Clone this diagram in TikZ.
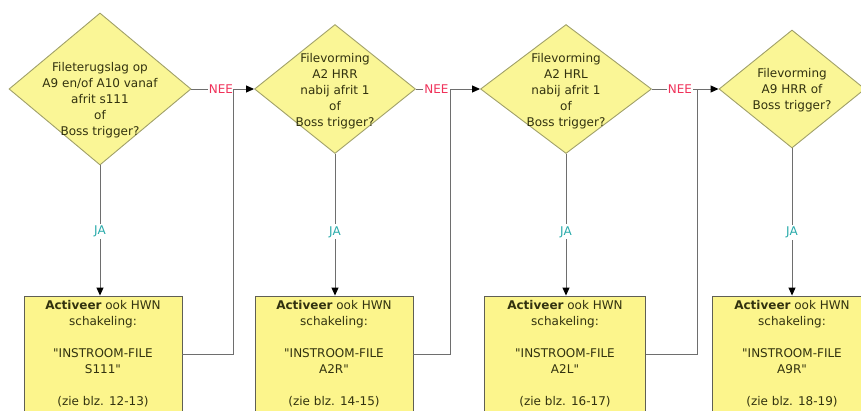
\documentclass[tikz,border=0pt]{standalone}
\usepackage{fontspec}
\setmainfont{DejaVu Sans}[Ligatures=TeXOff]
\usetikzlibrary{arrows.meta,shapes.geometric}

\definecolor{qfill}{RGB}{250,246,150}
\definecolor{qdraw}{RGB}{160,160,105}
\definecolor{afill}{RGB}{252,245,140}
\definecolor{adraw}{RGB}{95,95,85}
\definecolor{flowgray}{RGB}{110,110,110}
\definecolor{neered}{RGB}{240,50,90}
\definecolor{jateal}{RGB}{40,170,170}
\definecolor{txt}{RGB}{50,50,15}

\begin{document}
\begin{tikzpicture}[
    x=1pt, y=-1pt,
    question/.style={
      diamond, draw=qdraw, fill=qfill,
      line width=0.9pt, inner sep=0pt
    },
    qtext/.style={
      font=\fontsize{12}{16}\selectfont,
      align=center, text=txt, inner sep=0pt
    },
    action/.style={
      rectangle, draw=adraw, fill=afill, line width=0.9pt,
      minimum width=158pt, minimum height=116pt,
      font=\fontsize{12}{16}\selectfont,
      align=center, text=txt
    },
    flow/.style={draw=flowgray, line width=0.9pt},
    arrow/.style={flow, -{Triangle[length=8pt,width=7pt,black]}},
    nee/.style={fill=white, text=neered, inner sep=1pt,
      font=\fontsize{12}{14}\selectfont},
    ja/.style={fill=white, text=jateal, inner sep=2pt,
      font=\fontsize{12}{14}\selectfont}
  ]

  \useasboundingbox (0,0) rectangle (861,410);
  \clip (0,0) rectangle (861,410);

  % Questions
  \node[question, minimum width=182pt, minimum height=152pt] (d1) at (100,89) {};
  \node[qtext] (t1) at (100,100) {Fileterugslag op\\ A9 en/of A10 vanaf\\ afrit s111\\ of\\ Boss trigger?};

  \node[question, minimum width=161pt, minimum height=129pt] (d2) at (335,89) {};
  \node[qtext] (t2) at (335,91) {Filevorming\\ A2 HRR\\ nabij afrit 1\\ of\\ Boss trigger?};

  \node[question, minimum width=171pt, minimum height=129pt] (d3) at (566,89) {};
  \node[qtext] (t3) at (566,91) {Filevorming\\ A2 HRL\\ nabij afrit 1\\ of\\ Boss trigger?};

  \node[question, minimum width=146pt, minimum height=118pt] (d4) at (792,89) {};
  \node[qtext] (t4) at (792,90) {Filevorming\\ A9 HRR of\\ Boss trigger?};

  % Actions
  \node[action] (b1) at (103,354) {\textbf{Activeer} ook HWN\\ schakeling:\\[16pt] "INSTROOM-FILE\\ S111"\\[16pt] (zie blz. 12-13)};
  \node[action] (b2) at (334,354) {\textbf{Activeer} ook HWN\\ schakeling:\\[16pt] "INSTROOM-FILE\\ A2R"\\[16pt] (zie blz. 14-15)};
  \node[action, minimum width=161pt] (b3) at (565,354) {\textbf{Activeer} ook HWN\\ schakeling:\\[16pt] "INSTROOM-FILE\\ A2L"\\[16pt] (zie blz. 16-17)};
  \node[action, minimum width=160pt] (b4) at (792,354) {\textbf{Activeer} ook HWN\\ schakeling:\\[16pt] "INSTROOM-FILE\\ A9R"\\[16pt] (zie blz. 18-19)};

  % Junctions
  \coordinate (j1) at (233,89);
  \coordinate (j2) at (450,89);
  \coordinate (j3) at (697,89);

  % NEE
  \draw[arrow] (d1.east) -- node[nee, pos=0.47] {NEE} (d2.west);
  \draw[arrow] (d2.east) -- node[nee, pos=0.32] {NEE} (d3.west);
  \draw[arrow] (d3.east) -- node[nee, pos=0.42] {NEE} (d4.west);

  % JA
  \draw[arrow] (d1.south) -- node[ja, pos=0.51] {JA} (d1.south |- b1.north);
  \draw[arrow] (d2.south) -- node[ja, pos=0.55] {JA} (d2.south |- b2.north);
  \draw[arrow] (d3.south) -- node[ja, pos=0.55] {JA} (d3.south |- b3.north);
  \draw[arrow] (d4.south) -- node[ja, pos=0.57] {JA} (d4.south |- b4.north);

  % back to the next question
  \draw[flow] (b1.east) -| (j1);
  \draw[flow] (b2.east) -| (j2);
  \draw[flow] (b3.east) -| (j3);

\end{tikzpicture}
\end{document}
